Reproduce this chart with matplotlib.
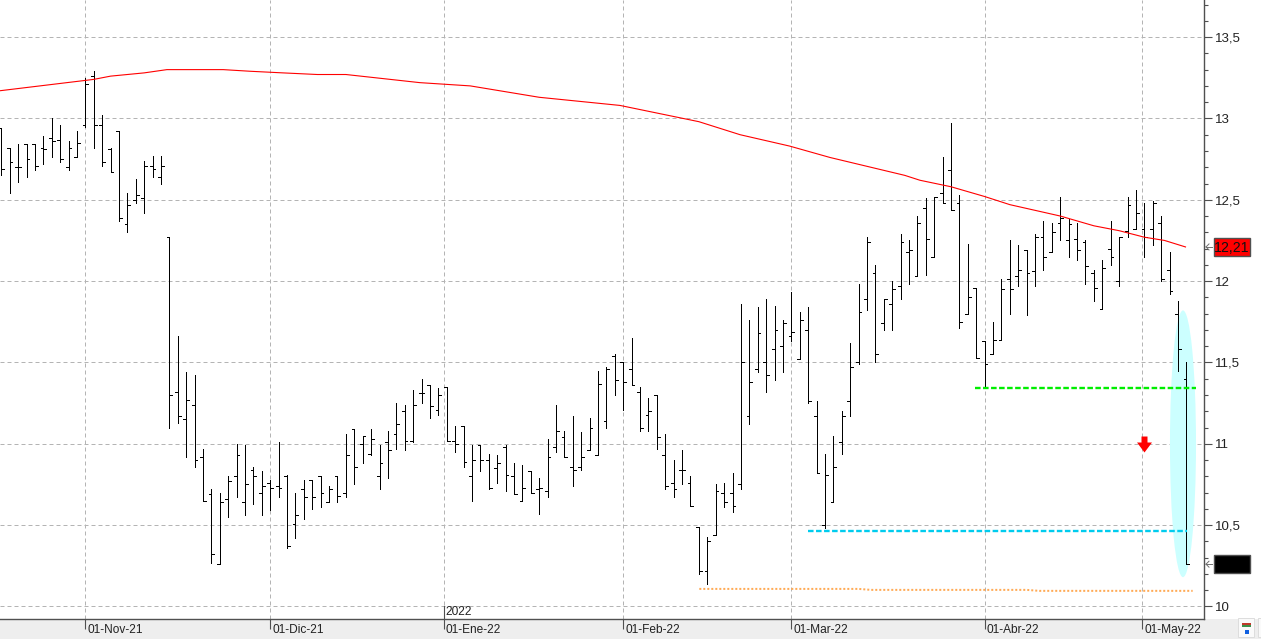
import matplotlib
matplotlib.use('Agg')
import matplotlib.pyplot as plt
from matplotlib.collections import LineCollection
from matplotlib.patches import Ellipse, Rectangle
from matplotlib.path import Path
from matplotlib.ticker import FuncFormatter, MultipleLocator
from matplotlib.transforms import ScaledTranslation

# daily bars, one entry per session
highs = [12.94, 12.82, 12.84, 12.84, 12.84, 12.89, 13.00, 12.96, 12.86, 12.92,
         13.25, 13.29, 13.02, 12.82, 12.92, 12.54, 12.63, 12.74, 12.77, 12.77,
         12.27, 11.66, 11.44, 11.42, 10.97, 10.72, 10.70, 10.80, 11.00, 10.99,
         10.86, 10.83, 10.78, 11.01, 10.81, 10.70, 10.78, 10.78, 10.80, 10.74,
         10.80, 11.06, 11.09, 11.05, 11.09, 10.99, 11.08, 11.25, 11.24, 11.33,
         11.40, 11.36, 11.34, 11.35, 11.11, 11.11, 10.99, 10.99, 10.94, 10.93,
         10.99, 10.88, 10.87, 10.83, 10.79, 11.03, 11.24, 11.08, 11.17, 11.07,
         11.16, 11.45, 11.47, 11.55, 11.50, 11.65, 11.35, 11.28, 11.30, 11.06,
         10.90, 10.96, 10.80, 10.49, 10.43, 10.75, 10.76, 10.82, 11.86, 11.76,
         11.84, 11.89, 11.85, 11.76, 11.93, 11.81, 11.84, 11.26, 10.94, 11.05,
         11.20, 11.62, 11.98, 12.27, 12.10, 11.89, 12.00, 12.29, 12.25, 12.40,
         12.51, 12.52, 12.76, 12.97, 12.53, 12.23, 11.96, 11.63, 11.75, 12.01,
         12.25, 12.22, 12.19, 12.29, 12.37, 12.36, 12.52, 12.38, 12.36, 12.25,
         12.07, 12.13, 12.37, 12.27, 12.52, 12.56, 12.48, 12.49, 12.40, 12.18,
         11.88, 11.50]
lows = [12.65, 12.54, 12.61, 12.64, 12.68, 12.72, 12.76, 12.73, 12.68, 12.76,
        12.95, 12.82, 12.71, 12.67, 12.37, 12.30, 12.48, 12.42, 12.64, 12.60,
        11.10, 11.13, 10.92, 10.86, 10.65, 10.27, 10.26, 10.55, 10.67, 10.56,
        10.63, 10.56, 10.59, 10.67, 10.36, 10.42, 10.54, 10.60, 10.61, 10.64,
        10.64, 10.67, 10.75, 10.88, 10.93, 10.72, 10.79, 10.97, 10.96, 11.01,
        11.25, 11.16, 11.18, 11.02, 10.95, 10.86, 10.65, 10.83, 10.72, 10.76,
        10.71, 10.69, 10.65, 10.70, 10.57, 10.67, 10.95, 10.92, 10.74, 10.84,
        10.96, 10.93, 11.10, 11.30, 11.21, 11.36, 11.08, 11.08, 10.97, 10.72,
        10.67, 10.75, 10.62, 10.20, 10.14, 10.44, 10.61, 10.58, 10.72, 11.12,
        11.44, 11.32, 11.39, 11.44, 11.63, 11.52, 11.25, 10.82, 10.48, 10.64,
        10.94, 11.17, 11.49, 11.82, 11.50, 11.70, 11.70, 11.89, 11.98, 12.03,
        12.04, 12.15, 12.48, 12.44, 11.71, 11.80, 11.53, 11.35, 11.55, 11.64,
        11.80, 11.97, 11.79, 11.97, 12.07, 12.18, 12.25, 12.15, 12.13, 11.98,
        11.88, 11.83, 12.10, 11.97, 12.27, 12.32, 12.15, 12.22, 12.00, 11.92,
        11.45, 10.26]
opens = [12.94, 12.82, 12.70, 12.84, 12.84, 12.82, 12.88, 12.87, 12.70, 12.76,
         12.96, 13.26, 12.96, 12.81, 12.92, 12.35, 12.50, 12.51, 12.71, 12.64,
         12.27, 11.32, 11.15, 11.24, 10.92, 10.69, 10.26, 10.66, 10.80, 10.64,
         10.84, 10.70, 10.76, 10.74, 10.80, 10.51, 10.72, 10.78, 10.80, 10.64,
         10.80, 10.70, 11.09, 11.00, 10.94, 10.80, 11.01, 11.06, 11.20, 11.02,
         11.31, 11.36, 11.21, 11.35, 11.02, 11.11, 10.80, 10.99, 10.90, 10.85,
         10.98, 10.80, 10.65, 10.83, 10.72, 10.71, 10.98, 11.04, 10.86, 10.86,
         10.96, 10.93, 11.14, 11.54, 11.50, 11.46, 11.32, 11.18, 11.30, 10.93,
         10.76, 10.84, 10.76, 10.49, 10.22, 10.44, 10.70, 10.70, 10.75, 11.17,
         11.46, 11.50, 11.58, 11.60, 11.66, 11.52, 11.70, 11.17, 10.50, 10.64,
         11.01, 11.26, 11.50, 11.89, 12.05, 11.74, 11.86, 11.97, 12.18, 12.03,
         12.45, 12.15, 12.54, 12.68, 12.48, 11.80, 11.96, 11.63, 11.55, 11.64,
         12.01, 12.03, 12.19, 12.06, 12.27, 12.18, 12.36, 12.25, 12.26, 12.24,
         12.05, 11.83, 12.20, 12.00, 12.31, 12.32, 12.32, 12.32, 12.36, 12.07,
         11.80, 11.40]
closes = [12.69, 12.73, 12.70, 12.75, 12.71, 12.81, 12.86, 12.75, 12.82, 12.85,
          13.21, 12.96, 12.73, 12.67, 12.39, 12.47, 12.53, 12.71, 12.69, 12.71,
          11.30, 11.17, 11.27, 10.90, 10.65, 10.32, 10.64, 10.77, 10.93, 10.75,
          10.80, 10.74, 10.73, 10.73, 10.37, 10.56, 10.67, 10.67, 10.70, 10.72,
          10.68, 10.93, 10.86, 11.05, 11.03, 10.88, 10.96, 11.12, 11.02, 11.24,
          11.31, 11.23, 11.30, 11.02, 11.00, 10.89, 10.90, 10.90, 10.73, 10.88,
          10.81, 10.69, 10.73, 10.70, 10.73, 10.92, 11.08, 10.92, 10.84, 10.92,
          11.10, 11.37, 11.46, 11.39, 11.38, 11.36, 11.10, 11.20, 11.04, 10.74,
          10.72, 10.84, 10.62, 10.22, 10.40, 10.71, 10.64, 10.62, 11.50, 11.38,
          11.68, 11.42, 11.70, 11.74, 11.69, 11.76, 11.26, 10.82, 10.81, 10.86,
          11.17, 11.47, 11.81, 12.24, 11.55, 11.89, 11.95, 12.24, 12.19, 12.36,
          12.26, 12.52, 12.48, 12.44, 11.75, 11.90, 11.53, 11.49, 11.64, 11.95,
          11.95, 12.07, 12.05, 12.27, 12.15, 12.30, 12.39, 12.35, 12.19, 12.09,
          11.96, 12.08, 12.15, 12.27, 12.47, 12.42, 12.27, 12.48, 12.01, 11.94,
          11.58, 10.26]

# long moving average, read at irregular sessions
ma_x = [-0.2, 9.4, 11, 13, 17, 19.7, 26.4, 29.6, 33.5, 37.6, 41, 49.8, 55.8,
        64, 73.6, 83, 87.9, 93.8, 98.6, 107.5, 109.3, 113, 117, 120, 126, 130,
        133, 136, 138.4, 140.9]
ma_y = [13.17, 13.23, 13.24, 13.26, 13.28, 13.30, 13.30, 13.29, 13.28, 13.27,
        13.27, 13.22, 13.20, 13.13, 13.08, 12.98, 12.90, 12.83, 12.76, 12.65,
        12.62, 12.58, 12.52, 12.47, 12.40, 12.34, 12.31, 12.27, 12.25, 12.21]

month_pos = [10, 32, 52.64, 74, 94, 117, 135.75]
month_labels = ['01-Nov-21', '01-Dic-21', '01-Ene-22', '01-Feb-22',
                '01-Mar-22', '01-Abr-22', '01-May-22']

# horizontal levels drawn on top of the bars
green_level = 11.343
cyan_level = 10.465
orange_x = [83.05, 102, 103.5, 122, 123.5, 141.75]
orange_y = [10.108, 10.108, 10.102, 10.102, 10.096, 10.096]

last_ma = 12.21
last_close = 10.26
signal_x = 136.0
signal_y = 11.0

W, H = 1261, 639
AXIS_X, AXIS_Y = 1204, 619


def fx(px):
    return px / W


def fy(py):
    return 1 - py / H


fig = plt.figure(figsize=(W / 100, H / 100), dpi=100)
plt.rcParams['font.family'] = ['Liberation Sans', 'DejaVu Sans']
fig.patch.set_facecolor('white')
fig.add_artist(Rectangle((0, 0), 1, fy(AXIS_Y), transform=fig.transFigure,
                         facecolor='#eeeeee', edgecolor='none', zorder=0))

ax = fig.add_axes([0, fy(AXIS_Y), fx(AXIS_X), AXIS_Y / H])
ax.set_xlim(-0.155, 143.1)
ax.set_ylim(9.923, 13.728)

px_lw = 0.72
grid_style = dict(color='#b4b4b4', lw=px_lw, ls=(0, (4, 3)), zorder=1)
ax.yaxis.set_major_locator(MultipleLocator(0.5))
ax.yaxis.set_minor_locator(MultipleLocator(0.1))
ax.yaxis.set_major_formatter(FuncFormatter(lambda v, _: f'{v:g}'.replace('.', ',')))
ax.yaxis.tick_right()
ax.set_xticks(month_pos, month_labels, ha='left')
ax.grid(True, which='major', **grid_style)
ax.set_axisbelow(True)

for side in ['top', 'left']:
    ax.spines[side].set_visible(False)
for side in ['right', 'bottom']:
    ax.spines[side].set_color('#505050')
    ax.spines[side].set_linewidth(1.0)

ax.tick_params(axis='y', which='major', length=5.5, width=0.8, color='#505050',
               labelsize=9.5, pad=2.5, labelcolor='#222222')
ax.tick_params(axis='y', which='minor', length=3, width=0.8, color='#505050')
ax.tick_params(axis='x', which='major', length=7.2, width=0.8, color='#505050',
               labelsize=8.6, pad=-3.5, labelcolor='#222222')
for lab in ax.get_xticklabels():
    lab.set_transform(lab.get_transform() + ScaledTranslation(2 / 100, 0, fig.dpi_scale_trans))

# highlight around the last sessions
ax.add_patch(Ellipse((140.6, 11.0), 3.1, 1.64, facecolor='#ccffff',
                     edgecolor='none', zorder=2))

# hi-lo bars with open tick to the left and close tick to the right
tick_w = 0.33
segs = []
for i, (h, l, o, c) in enumerate(zip(highs, lows, opens, closes)):
    segs.append([(i, l), (i, h)])
    segs.append([(i - tick_w, o), (i, o)])
    segs.append([(i, c), (i + tick_w, c)])
bars = LineCollection(segs, colors='black', linewidths=px_lw, zorder=4,
                      antialiaseds=False)
ax.add_collection(bars)

ax.plot(ma_x, ma_y, color='#ff0000', lw=0.8, zorder=5)

ax.plot([115.9, 142.2], [green_level] * 2, color='#00ee00', lw=1.7,
        ls=(0, (2.35, 1.05)), zorder=5)
ax.plot([96, 141.1], [cyan_level] * 2, color='#00ccee', lw=1.7,
        ls=(0, (2.35, 1.05)), zorder=5)
ax.plot(orange_x, orange_y, color='#ffaa55', lw=1.44, ls=(0, (1, 1)), zorder=5)

# sell signal arrow
arrow = Path([(-3, 8), (3, 8), (3, 2), (7.5, 2), (0, -8), (-7.5, 2), (-3, 2), (-3, 8)])
ax.plot([signal_x], [signal_y], marker=arrow, ms=11.5, color='#ff0000',
        mec='none', ls='none', zorder=6)

# year mark above the axis
ax.plot([month_pos[2]] * 2, [9.923, 10.0], color='#505050', lw=0.8, zorder=6)
ax.text(month_pos[2] + 0.2, 9.93, '2022', fontsize=8.6, color='#222222',
        ha='left', va='bottom', zorder=6)


def price_box(py, face, label=''):
    fig.add_artist(Rectangle((fx(1214), fy(py + 9)), 36 / W, 18 / H,
                             transform=fig.transFigure, facecolor=face,
                             edgecolor='#505050', lw=1.0, zorder=5))
    if label:
        fig.text(fx(1232), fy(py), label, color='#111111', fontsize=10.2,
                 ha='center', va='center_baseline', zorder=6)
    # small pointer from the box towards the axis
    for xs, ys in [([1206, 1212], [py, py]), ([1209, 1206], [py - 3, py]),
                   ([1209, 1206], [py + 3, py])]:
        fig.add_artist(plt.Line2D([fx(v) for v in xs], [fy(v) for v in ys],
                                  transform=fig.transFigure, color='#707070',
                                  lw=0.7, zorder=6))


trans = ax.transData
y_ma = H - trans.transform((0, last_ma))[1]
y_close = H - trans.transform((0, last_close))[1]
price_box(y_ma, '#ff0000', '12,21')
price_box(y_close, '#000000')

# toolbar button in the corner
fig.add_artist(Rectangle((fx(1238), fy(637)), 16 / W, 19 / H,
                         transform=fig.transFigure, facecolor='#fafafa',
                         edgecolor='#dddddd', lw=0.7, zorder=5))
fig.add_artist(Rectangle((fx(1242), fy(627)), 9 / W, 2 / H, transform=fig.transFigure,
                         facecolor='#3c8f4a', edgecolor='none', zorder=6))
fig.add_artist(Rectangle((fx(1242), fy(625)), 9 / W, 2 / H, transform=fig.transFigure,
                         facecolor='#c0392b', edgecolor='none', zorder=6))
fig.add_artist(Rectangle((fx(1245), fy(634)), 4 / W, 4 / H, transform=fig.transFigure,
                         facecolor='#1060e0', edgecolor='none', zorder=6))
fig.add_artist(Rectangle((fx(1258), fy(637)), 3 / W, 19 / H, transform=fig.transFigure,
                         facecolor='#fafafa', edgecolor='#dddddd', lw=0.7, zorder=5))

plt.savefig('out.png', dpi=100)
